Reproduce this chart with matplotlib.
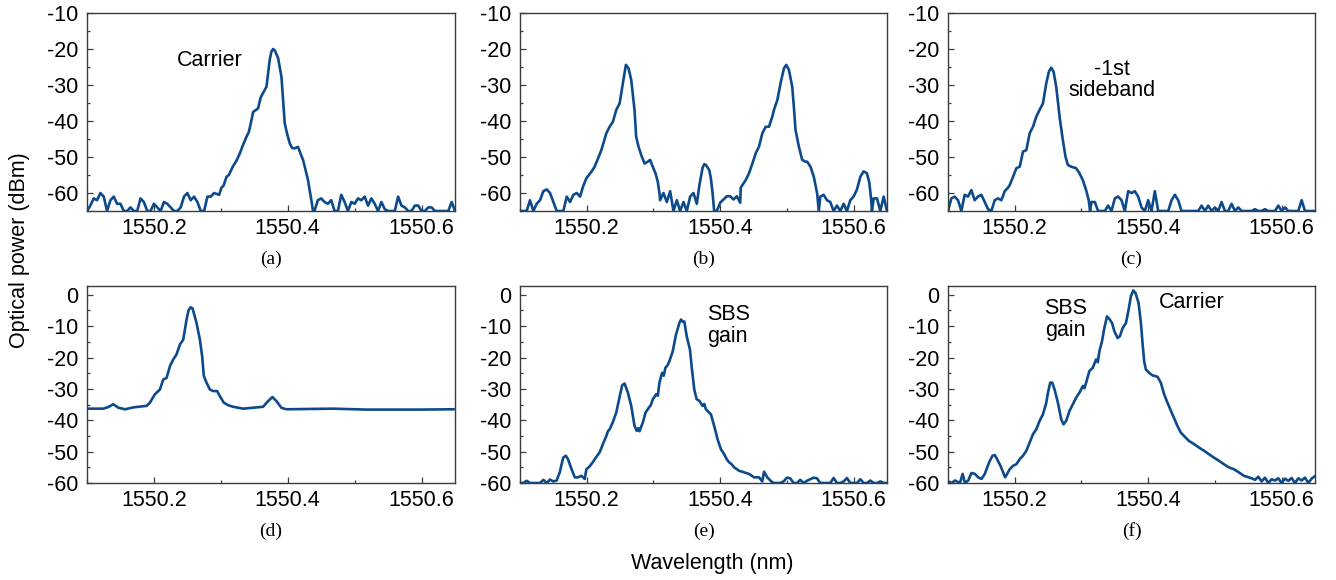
import numpy as np
import matplotlib
matplotlib.use("Agg")
import matplotlib.pyplot as plt
from matplotlib.ticker import MultipleLocator, FormatStrFormatter

plt.rcParams["font.family"] = ["Liberation Sans", "DejaVu Sans"]
plt.rcParams["axes.unicode_minus"] = False

OSA_STEP = 0.005  # nm, OSA sampling of the noise-floor segments

# ---------------- (a) carrier only ----------------
floor_a1_start = 1550.100
floor_a1 = [-65, -63.5, -61.5, -62, -60, -61, -65, -62, -61, -63,
            -63, -65, -65, -64, -65, -65, -61.5, -62.5, -65, -65,
            -63, -64, -65, -62.5, -63, -64, -65, -65, -64, -61,
            -60, -62, -61, -62.5, -65, -65, -61, -61, -60]
wl_a = [1550.2975, 1550.3010, 1550.3040, 1550.3085, 1550.3120, 1550.3184, 1550.3235, 1550.3284,
        1550.3335, 1550.3383, 1550.3420, 1550.3455, 1550.3483, 1550.3520, 1550.3557, 1550.3595,
        1550.3632, 1550.3682, 1550.3705, 1550.3731, 1550.3755, 1550.3781, 1550.3810, 1550.3856,
        1550.3906, 1550.3930, 1550.3955, 1550.3990, 1550.4030, 1550.4065, 1550.4104, 1550.4154,
        1550.4190, 1550.4229, 1550.4265, 1550.4303, 1550.4353, 1550.4378]
p_a = [-60.5, -58.5, -58.0, -55.5, -55.0, -52.5, -51.0, -49.0,
       -46.5, -44.4, -43.0, -40.0, -37.5, -37.0, -36.5, -33.5,
       -32.2, -30.5, -27.0, -23.0, -20.8, -20.0, -20.5, -22.5,
       -27.7, -34.0, -40.6, -43.5, -46.2, -47.5, -47.6, -47.2,
       -49.0, -50.8, -53.5, -56.4, -62.0, -65.0]
floor_a2_start = 1550.440
floor_a2 = [-65, -62, -61.5, -62.5, -63, -62, -65, -65, -60.5, -62.5,
            -65, -62.5, -63, -61.5, -62, -61, -63.5, -61.5, -63, -65,
            -62.5, -64.5, -65, -65, -65, -61, -63.5, -64, -65, -65,
            -63.5, -63.5, -65, -65, -64, -64, -65, -65, -65, -65,
            -65, -62.5, -65]

# ---------------- (b) +/-1st sidebands ----------------
floor_b1_start = 1550.100
floor_b1 = [-65, -65, -65, -62, -65, -63, -62, -59.5, -59, -60,
            -62.5, -65, -65, -65, -61, -62.5, -60.5, -60, -61]
wl_b1 = [1550.1945, 1550.1995, 1550.2070, 1550.2119, 1550.2169, 1550.2219, 1550.2294, 1550.2343,
         1550.2393, 1550.2443, 1550.2493, 1550.2542, 1550.2587, 1550.2627, 1550.2667, 1550.2716,
         1550.2741, 1550.2776, 1550.2816, 1550.2866, 1550.2915, 1550.2950, 1550.2990, 1550.3030,
         1550.3065, 1550.3090]
p_b1 = [-58.2, -55.9, -54.1, -52.7, -50.4, -48.1, -43.4, -41.6,
        -40.2, -36.9, -35.1, -29.5, -24.4, -25.4, -28.6, -36.9,
        -44.4, -47.1, -49.4, -51.8, -51.3, -50.8, -52.7, -54.5,
        -56.9, -60.1]
floor_b2_start = 1550.310
floor_b2 = [-62, -60, -62.5, -59.5, -65, -62, -65, -62.5, -65, -61, -60, -63]
wl_b2 = [1550.3687, 1550.3736, 1550.3761, 1550.3786, 1550.3836, 1550.3861, 1550.3886, 1550.3910]
p_b2 = [-58, -53, -52, -52.2, -53.6, -56, -60, -65]
floor_b3_start = 1550.395
floor_b3 = [-65, -62.7, -61.8, -60.9, -60.9, -61.8, -60.9, -62.7]
wl_b3 = [1550.4308, 1550.4333, 1550.4383, 1550.4433, 1550.4483, 1550.4532, 1550.4582, 1550.4632,
         1550.4682, 1550.4731, 1550.4781, 1550.4806, 1550.4856, 1550.4905, 1550.4955, 1550.4990,
         1550.5030, 1550.5080, 1550.5104, 1550.5129, 1550.5179, 1550.5229, 1550.5279, 1550.5303,
         1550.5353, 1550.5403, 1550.5453, 1550.5478]
p_b3 = [-58.5, -57.8, -56.4, -54.5, -51.8, -49.0, -47.1, -43.4,
        -41.6, -41.6, -38.8, -36.9, -34.2, -29.5, -25.4, -24.4,
        -25.8, -30.5, -36.0, -42.5, -47.1, -50.8, -51.3, -51.3,
        -52.7, -55.5, -60.1, -65.0]
floor_b4_start = 1550.550
floor_b4 = [-61, -60.5, -62, -62.5, -65, -63.5, -65, -63, -65, -62, -61]
wl_b4 = [1550.6050, 1550.6100, 1550.6149, 1550.6199, 1550.6234, 1550.6264, 1550.6274]
p_b4 = [-59, -55.5, -54, -54.5, -57, -62, -65]
floor_b5_start = 1550.630
floor_b5 = [-61.5, -61.5, -65, -61, -65]

# ---------------- (c) -1st sideband ----------------
floor_c1_start = 1550.100
floor_c1 = [-65, -61.5, -61, -62, -65, -60.5, -61, -59.2, -62, -61,
            -60.5, -62.5, -64.5, -65, -62, -61.5, -62, -59.5, -58.5]
wl_c = [1550.1925, 1550.1975, 1550.2025, 1550.2075, 1550.2124, 1550.2174, 1550.2224, 1550.2274,
        1550.2323, 1550.2373, 1550.2423, 1550.2473, 1550.2512, 1550.2547, 1550.2582, 1550.2622,
        1550.2672, 1550.2721, 1550.2761, 1550.2796, 1550.2846, 1550.2920, 1550.2970, 1550.3020,
        1550.3070, 1550.3109, 1550.3129]
p_c = [-57.8, -55.5, -53.1, -52.7, -48.5, -48.1, -43.4, -41.6,
       -38.8, -36.9, -35.1, -29.5, -26.3, -25.2, -26.3, -30.5,
       -38.8, -45.3, -49.9, -52.2, -52.7, -53.1, -54.5, -56.4,
       -59.2, -62.0, -65.0]
floor_c2_start = 1550.315
floor_c2 = [-62.5, -62.5, -65, -65, -65, -63.5, -65, -61.5, -61, -62,
            -65, -59.5, -60, -59.5, -61, -64, -65, -62, -65, -59.5,
            -65, -65, -65, -65, -62, -60.5, -62, -65, -65, -65,
            -65, -65, -65, -63.5, -65, -63.5, -65, -64, -65, -62.5,
            -65, -65, -63, -65, -64, -65, -65, -65, -65, -64.5,
            -65, -65, -64.5, -65, -65, -65, -63.5, -65, -64, -65,
            -65, -65, -65, -62, -65, -65, -65, -65]

# ---------------- (d) pump / probe ----------------
wl_d = [1550.1005, 1550.1244, 1550.1318, 1550.1393, 1550.1468, 1550.1567, 1550.1692, 1550.1891,
        1550.1940, 1550.2015, 1550.2090, 1550.2139, 1550.2189, 1550.2239, 1550.2289, 1550.2338,
        1550.2388, 1550.2438, 1550.2488, 1550.2517, 1550.2547, 1550.2577, 1550.2612, 1550.2637,
        1550.2687, 1550.2721, 1550.2746, 1550.2786, 1550.2836, 1550.2886, 1550.2945, 1550.2985,
        1550.3045, 1550.3109, 1550.3184, 1550.3333, 1550.3483, 1550.3632, 1550.3706, 1550.3771,
        1550.3831, 1550.3905, 1550.3980, 1550.4677, 1550.5174, 1550.5572, 1550.5970, 1550.6478]
p_d = [-36.3, -36.3, -35.8, -34.9, -36.0, -36.5, -35.9, -35.4,
       -34.4, -31.7, -30.2, -27.0, -26.5, -22.8, -20.6, -19.0,
       -15.9, -14.3, -7.9, -5.0, -4.0, -4.3, -7.0, -9.0,
       -14.3, -19.6, -25.9, -28.0, -30.2, -30.7, -30.7, -32.3,
       -34.4, -35.2, -35.7, -36.3, -36.0, -35.7, -33.9, -32.6,
       -33.9, -36.0, -36.5, -36.3, -36.6, -36.6, -36.6, -36.5]

# ---------------- (e) SBS gain ----------------
floor_e1_start = 1550.100
floor_e1 = [-60, -60, -59.3, -60, -60, -60, -60, -59, -60, -58.9, -59.5, -59.2]
wl_e = [1550.1597, 1550.1647, 1550.1687, 1550.1721, 1550.1771, 1550.1821, 1550.1871, 1550.1920,
        1550.1970, 1550.1995, 1550.2040, 1550.2090, 1550.2140, 1550.2194, 1550.2244, 1550.2294,
        1550.2318, 1550.2343, 1550.2393, 1550.2443, 1550.2493, 1550.2532, 1550.2567, 1550.2617,
        1550.2667, 1550.2716, 1550.2751, 1550.2771, 1550.2791, 1550.2841, 1550.2881, 1550.2930,
        1550.2960, 1550.2990, 1550.3040, 1550.3065, 1550.3090, 1550.3129, 1550.3154, 1550.3179,
        1550.3210, 1550.3239, 1550.3289, 1550.3338, 1550.3388, 1550.3413, 1550.3440, 1550.3463,
        1550.3498, 1550.3547, 1550.3577, 1550.3612, 1550.3647, 1550.3687, 1550.3736, 1550.3761,
        1550.3786, 1550.3861, 1550.3910, 1550.3960, 1550.4010, 1550.4060, 1550.4100, 1550.4134,
        1550.4170, 1550.4209, 1550.4284, 1550.4358, 1550.4433, 1550.4507, 1550.4582, 1550.4630,
        1550.4657, 1550.4706, 1550.4756, 1550.4800]
p_e = [-56.5, -51.9, -51.3, -52.5, -55.5, -58.2, -58.2, -57.7,
       -58.7, -55.6, -54.8, -53.4, -51.8, -50.2, -47.5, -45.0,
       -43.5, -42.9, -40.5, -37.5, -32.5, -28.8, -28.3, -31.2,
       -35.4, -41.8, -43.4, -42.5, -43.5, -40.7, -37.6, -36.0,
       -35.2, -33.3, -31.7, -32.2, -28.0, -24.9, -25.8, -23.3,
       -22.5, -21.2, -18.0, -12.7, -9.0, -7.9, -8.6, -8.5,
       -13.2, -17.5, -23.8, -30.2, -33.3, -33.8, -35.4, -34.8,
       -36.5, -38.1, -41.8, -46.0, -49.2, -50.8, -52.5, -53.4,
       -54.0, -55.0, -56.1, -56.6, -57.1, -58.2, -58.2, -59.5,
       -56.4, -58.2, -59.3, -60.0]
floor_e2_start = 1550.485
floor_e2 = [-60, -60, -59.5, -58.3, -58.5, -60, -60, -59, -60, -59.3,
            -58.8, -58.3, -58.5, -60, -60, -60, -60, -58.4, -60, -60,
            -59.5, -58.4, -60, -60, -60, -58.8, -60, -60, -59.2, -60,
            -60, -59.5, -60, -60]

# ---------------- (f) SBS gain + carrier ----------------
wl_f = [1550.1005, 1550.1055, 1550.1104, 1550.1179, 1550.1219, 1550.1254, 1550.1303, 1550.1353,
        1550.1403, 1550.1453, 1550.1502, 1550.1552, 1550.1577, 1550.1627, 1550.1667, 1550.1701,
        1550.1736, 1550.1786, 1550.1826, 1550.1856, 1550.1886, 1550.1925, 1550.1975, 1550.2025,
        1550.2075, 1550.2124, 1550.2174, 1550.2224, 1550.2274, 1550.2323, 1550.2373, 1550.2423,
        1550.2473, 1550.2498, 1550.2532, 1550.2562, 1550.2597, 1550.2647, 1550.2697, 1550.2731,
        1550.2771, 1550.2821, 1550.2871, 1550.2920, 1550.2970, 1550.3020, 1550.3045, 1550.3070,
        1550.3119, 1550.3169, 1550.3219, 1550.3245, 1550.3269, 1550.3308, 1550.3343, 1550.3383,
        1550.3418, 1550.3458, 1550.3493, 1550.3542, 1550.3577, 1550.3617, 1550.3667, 1550.3706,
        1550.3741, 1550.3776, 1550.3811, 1550.3856, 1550.3891, 1550.3915, 1550.3940, 1550.3965,
        1550.4015, 1550.4065, 1550.4139, 1550.4189, 1550.4239, 1550.4289, 1550.4363, 1550.4438,
        1550.4488, 1550.4537, 1550.4612, 1550.4687, 1550.4761, 1550.4836, 1550.4910, 1550.4985,
        1550.5060, 1550.5134, 1550.5209, 1550.5284, 1550.5358, 1550.5433, 1550.5507]
p_f = [-59.5, -60, -59.2, -60, -57.1, -60, -59.2, -56.8,
       -57.1, -58.2, -58.7, -57.1, -55.6, -52.9, -51.3, -51.1,
       -52.4, -54.5, -56.6, -58.2, -57.1, -55.6, -54.5, -54.0,
       -52.4, -51.3, -49.7, -47.1, -44.4, -42.9, -40.2, -38.1,
       -34.4, -31.2, -28.0, -28.0, -30.2, -34.4, -39.7, -41.3,
       -40.2, -37.0, -34.9, -32.8, -31.2, -29.1, -29.8, -28.0,
       -24.3, -23.3, -20.6, -21.5, -18.0, -14.8, -10.6, -6.9,
       -7.7, -9.0, -11.6, -13.8, -13.2, -10.6, -9.0, -4.8,
       -0.5, 1.4, 0.5, -2.6, -9.0, -15.3, -21.2, -23.8,
       -24.9, -25.7, -26.1, -28.0, -31.7, -34.4, -38.1, -41.8,
       -43.9, -45.0, -46.6, -47.6, -48.7, -49.7, -50.8, -51.9,
       -52.9, -54.0, -55.0, -55.6, -56.6, -57.7, -58.2]
floor_f_start = 1550.555
floor_f = [-58.5, -59, -58, -59.5, -58.3, -60, -58.8, -59.2, -58.5, -60,
           -58.6, -59.3, -58.4, -60, -58.5, -59.2, -58.3, -60, -58.6, -57.8]

panel_tags = ["(a)", "(b)", "(c)", "(d)", "(e)", "(f)"]
x_ticks = [1550.2, 1550.4, 1550.6]
y_ticks_top = [-60, -50, -40, -30, -20, -10]
y_ticks_bottom = [-60, -50, -40, -30, -20, -10, 0]


def spectrum(explicit, floors):
    xs, ys = [], []
    for wl, p in explicit:
        xs += list(wl)
        ys += list(p)
    for start, vals in floors:
        xs += list(start + OSA_STEP * np.arange(len(vals)))
        ys += list(vals)
    xs = np.asarray(xs)
    ys = np.asarray(ys, dtype=float)
    order = np.argsort(xs, kind="stable")
    return xs[order], ys[order]


spectra = [
    spectrum([(wl_a, p_a)], [(floor_a1_start, floor_a1), (floor_a2_start, floor_a2)]),
    spectrum([(wl_b1, p_b1), (wl_b2, p_b2), (wl_b3, p_b3), (wl_b4, p_b4)],
             [(floor_b1_start, floor_b1), (floor_b2_start, floor_b2), (floor_b3_start, floor_b3),
              (floor_b4_start, floor_b4), (floor_b5_start, floor_b5)]),
    spectrum([(wl_c, p_c)], [(floor_c1_start, floor_c1), (floor_c2_start, floor_c2)]),
    spectrum([(wl_d, p_d)], []),
    spectrum([(wl_e, p_e)], [(floor_e1_start, floor_e1), (floor_e2_start, floor_e2)]),
    spectrum([(wl_f, p_f)], [(floor_f_start, floor_f)]),
]

W, H = 1336, 580
fig = plt.figure(figsize=(W / 100, H / 100), dpi=100)

lefts = [87, 520, 948]
widths = [368, 367, 367]
rows = [(13, 211), (286, 483)]

line_color = "#0c4a8c"
spine_color = "#3c3c3c"
tick_fs = 15.5

axes = []
for r, (top, bot) in enumerate(rows):
    for c in range(3):
        ax = fig.add_axes([lefts[c] / W, (H - bot) / H, widths[c] / W, (bot - top) / H])
        axes.append(ax)

for i, ax in enumerate(axes):
    x, y = spectra[i]
    ax.plot(x, y, color=line_color, lw=1.9, solid_joinstyle="round")
    ax.set_xlim(1550.1, 1550.65)
    if i < 3:
        ax.set_ylim(-65, -10)
        ax.set_yticks(y_ticks_top)
    else:
        ax.set_ylim(-60, 2.8)
        ax.set_yticks(y_ticks_bottom)
    ax.set_xticks(x_ticks)
    ax.xaxis.set_major_formatter(FormatStrFormatter("%.1f"))
    ax.yaxis.set_major_formatter(FormatStrFormatter("%d"))
    ax.xaxis.set_minor_locator(MultipleLocator(0.1))
    ax.yaxis.set_minor_locator(MultipleLocator(5))
    ax.tick_params(axis="both", which="major", direction="in", length=4, width=0.9,
                   color=spine_color, labelsize=tick_fs, pad=5, top=False, right=False)
    ax.tick_params(axis="both", which="minor", direction="in", length=2.5, width=0.9,
                   color=spine_color, top=False, right=False)
    ax.tick_params(axis="y", which="major", pad=6)
    for s in ax.spines.values():
        s.set_color(spine_color)
        s.set_linewidth(1.0)
    # panel tag below each axes
    ax.text(0.5, -0.2, panel_tags[i], transform=ax.transAxes,
            ha="center", va="top", fontsize=14, family=["Liberation Serif", "DejaVu Serif"])

ann_fs = 15.5
axes[0].text(1550.284, -23.1, "Carrier", ha="center", va="center", fontsize=ann_fs)
axes[2].text(1550.346, -28.6, "-1st\nsideband", ha="center", va="center",
             multialignment="center", fontsize=ann_fs, linespacing=1.05)
axes[4].text(1550.381, -9.7, "SBS\ngain", ha="left", va="center",
             multialignment="left", fontsize=ann_fs, linespacing=1.05)
axes[5].text(1550.276, -7.8, "SBS\ngain", ha="center", va="center",
             multialignment="center", fontsize=ann_fs, linespacing=1.05)
axes[5].text(1550.466, -2.5, "Carrier", ha="center", va="center", fontsize=ann_fs)

fig.text(20 / W, (H - 250) / H, "Optical power (dBm)", rotation=90, ha="center", va="center",
         fontsize=15.5)
fig.text(712 / W, (H - 563) / H, "Wavelength (nm)", ha="center", va="center", fontsize=15.5)

fig.savefig("out.png", dpi=100)
